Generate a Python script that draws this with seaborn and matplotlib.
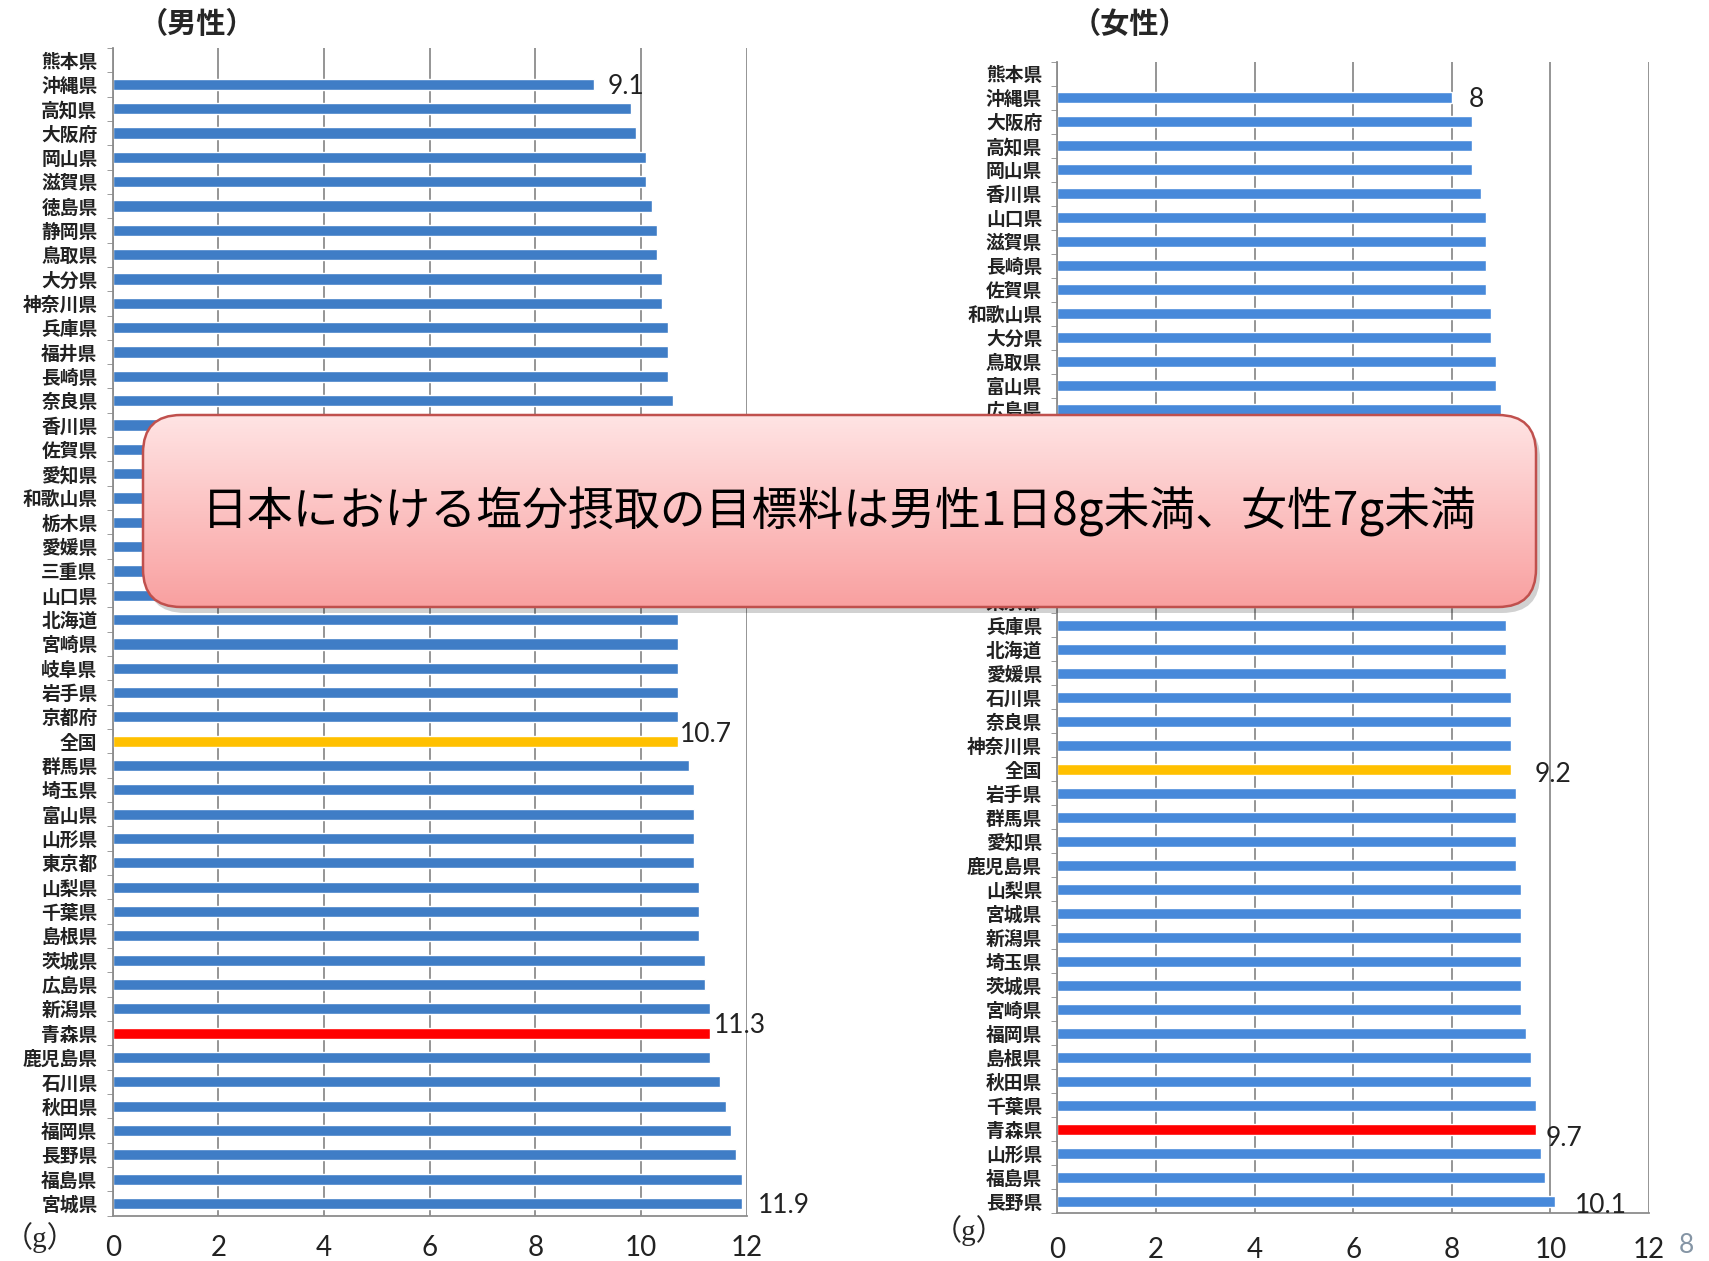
import numpy as np
import pandas as pd
import matplotlib
matplotlib.use("Agg")
import matplotlib.pyplot as plt
from matplotlib.patches import FancyBboxPatch
import seaborn as sns

# 男性 (rows top -> bottom)
male_prefs = ["熊本県", "沖縄県", "高知県", "大阪府", "岡山県", "滋賀県", "徳島県", "静岡県",
              "鳥取県", "大分県", "神奈川県", "兵庫県", "福井県", "長崎県", "奈良県", "香川県",
              "佐賀県", "愛知県", "和歌山県", "栃木県", "愛媛県", "三重県", "山口県", "北海道",
              "宮崎県", "岐阜県", "岩手県", "京都府", "全国", "群馬県", "埼玉県", "富山県",
              "山形県", "東京都", "山梨県", "千葉県", "島根県", "茨城県", "広島県", "新潟県",
              "青森県", "鹿児島県", "石川県", "秋田県", "福岡県", "長野県", "福島県", "宮城県"]
male_salt = [np.nan, 9.1, 9.8, 9.9, 10.1, 10.1, 10.2, 10.3,
             10.3, 10.4, 10.4, 10.5, 10.5, 10.5, 10.6, 10.6,
             10.6, 10.6, 10.6, 10.7, 10.7, 10.7, 10.7, 10.7,
             10.7, 10.7, 10.7, 10.7, 10.7, 10.9, 11.0, 11.0,
             11.0, 11.0, 11.1, 11.1, 11.1, 11.2, 11.2, 11.3,
             11.3, 11.3, 11.5, 11.6, 11.7, 11.8, 11.9, 11.9]

# 女性 (rows top -> bottom)
female_prefs = ["熊本県", "沖縄県", "大阪府", "高知県", "岡山県", "香川県", "山口県", "滋賀県",
                "長崎県", "佐賀県", "和歌山県", "大分県", "鳥取県", "富山県", "広島県", "徳島県",
                "静岡県", "福井県", "三重県", "栃木県", "京都府", "岐阜県", "東京都", "兵庫県",
                "北海道", "愛媛県", "石川県", "奈良県", "神奈川県", "全国", "岩手県", "群馬県",
                "愛知県", "鹿児島県", "山梨県", "宮城県", "新潟県", "埼玉県", "茨城県", "宮崎県",
                "福岡県", "島根県", "秋田県", "千葉県", "青森県", "山形県", "福島県", "長野県"]
female_salt = [np.nan, 8.0, 8.4, 8.4, 8.4, 8.6, 8.7, 8.7,
               8.7, 8.7, 8.8, 8.8, 8.9, 8.9, 9.0, 9.0,
               9.0, 9.0, 9.0, 9.1, 9.1, 9.1, 9.1, 9.1,
               9.1, 9.1, 9.2, 9.2, 9.2, 9.2, 9.3, 9.3,
               9.3, 9.3, 9.4, 9.4, 9.4, 9.4, 9.4, 9.4,
               9.5, 9.6, 9.6, 9.7, 9.7, 9.8, 9.9, 10.1]

male_labeled = ["沖縄県", "全国", "青森県", "宮城県"]
female_labeled = ["沖縄県", "全国", "青森県", "長野県"]
x_ticks = [0, 2, 4, 6, 8, 10, 12]
message = "日本における塩分摂取の目標料は男性1日8g未満、女性7g未満"

# label offsets in points (style, not data)
male_label_offset = {"沖縄県": (10, -1.5), "全国": (1, 5), "青森県": (3, 5.5), "宮城県": (12, -1.5)}
female_label_offset = {"沖縄県": (12, -1.5), "全国": (17, -4), "青森県": (7, -6.5), "長野県": (14, -3)}

sns.set_style("white")
plt.rcParams["font.family"] = ["Noto Sans CJK JP", "DejaVu Sans"]
num_font = ["Lato", "DejaVu Sans"]
grid_col = "#8c8c8c"

fig = plt.figure(figsize=(17.09, 12.61), dpi=100)
ax_m = fig.add_axes([0.066, 0.036, 0.371, 0.926])
ax_f = fig.add_axes([0.6187, 0.038, 0.3462, 0.913])


def draw_panel(ax, prefs, salt, base, labeled, offsets, ypad, xpad):
    df = pd.DataFrame({"pref": prefs, "salt": salt})
    pal = {p: base for p in prefs}
    pal["全国"] = "#FFC000"
    pal["青森県"] = "#FF0000"
    sns.barplot(data=df, x="salt", y="pref", hue="pref", order=prefs, palette=pal,
                orient="h", width=0.46, errorbar=None, legend=False, saturation=1, ax=ax)
    ax.set_xlim(0, 12)
    ax.set_ylim(len(prefs) - 0.5, -0.5)
    ax.set_xticks(x_ticks)
    ax.set_xticklabels([str(t) for t in x_ticks], fontsize=20, family=num_font, color="#222222")
    ax.xaxis.grid(True, color=grid_col, lw=1.3)
    ax.yaxis.grid(False)
    ax.set_axisbelow(True)
    for s in ["top", "right"]:
        ax.spines[s].set_visible(False)
    for s in ["left", "bottom"]:
        ax.spines[s].set_color(grid_col)
        ax.spines[s].set_linewidth(1.3)
    ax.tick_params(axis="x", length=4, color=grid_col, pad=xpad)
    ax.tick_params(axis="y", which="major", length=0, pad=ypad, labelsize=13.5, labelcolor="#222222")
    ax.set_yticks(np.arange(len(prefs) + 1) - 0.5, minor=True)
    ax.tick_params(axis="y", which="minor", length=4, color=grid_col, left=True)
    for lbl in ax.get_yticklabels():
        lbl.set_fontweight("bold")
    ax.set_xlabel("")
    ax.set_ylabel("")
    for p in labeled:
        i = prefs.index(p)
        v = salt[i]
        ax.annotate(f"{v:g}", xy=(v, i), xytext=offsets[p], textcoords="offset points",
                    ha="left", va="center", fontsize=19, family=num_font, color="#222222")


draw_panel(ax_m, male_prefs, male_salt, "#3F7DC6", male_labeled, male_label_offset, 11, 10)
draw_panel(ax_f, female_prefs, female_salt, "#4789DA", female_labeled, female_label_offset, 11, 13)

fig.text(0.115, 0.981, "（男性）", ha="center", va="center", fontsize=21, fontweight="bold")
fig.text(0.661, 0.981, "（女性）", ha="center", va="center", fontsize=21, fontweight="bold")
fig.text(0.002, 0.019, "（g）", ha="left", va="center", fontsize=21,
         family=["Liberation Serif", "Noto Sans CJK JP"])
fig.text(0.567, 0.024, "（g）", ha="center", va="center", fontsize=21,
         family=["Liberation Serif", "Noto Sans CJK JP"])
fig.text(0.987, 0.002, "8", ha="center", va="bottom", fontsize=19, color="#8595A5", family=num_font)

# callout box overlay in pixel coordinates
ov = fig.add_axes([0, 0, 1, 1], zorder=10)
ov.set_xlim(0, 1709)
ov.set_ylim(1261, 0)
ov.axis("off")
x0, x1, y0, y1 = 143, 1536, 415, 607
shadow = FancyBboxPatch((x0 + 4, y0 + 6), x1 - x0, y1 - y0,
                        boxstyle="round,pad=0,rounding_size=38",
                        facecolor="#000000", edgecolor="none", alpha=0.18)
ov.add_patch(shadow)
box = FancyBboxPatch((x0, y0), x1 - x0, y1 - y0, boxstyle="round,pad=0,rounding_size=38",
                     facecolor="none", edgecolor="#C0504D", lw=1.8)
ov.add_patch(box)
top = np.array([255, 228, 228]) / 255
bot = np.array([249, 160, 160]) / 255
t = np.linspace(0, 1, 256)[:, None]
grad = (top * (1 - t) + bot * t)[:, None, :]
img = ov.imshow(grad, extent=(x0, x1, y1, y0), origin="upper", aspect="auto", zorder=1)
img.set_clip_path(box)
box.set_zorder(2)
ov.text((x0 + x1) / 2, 512, message, ha="center", va="center", fontsize=33, color="#000000", zorder=3)

fig.savefig("out.png", dpi=100)
